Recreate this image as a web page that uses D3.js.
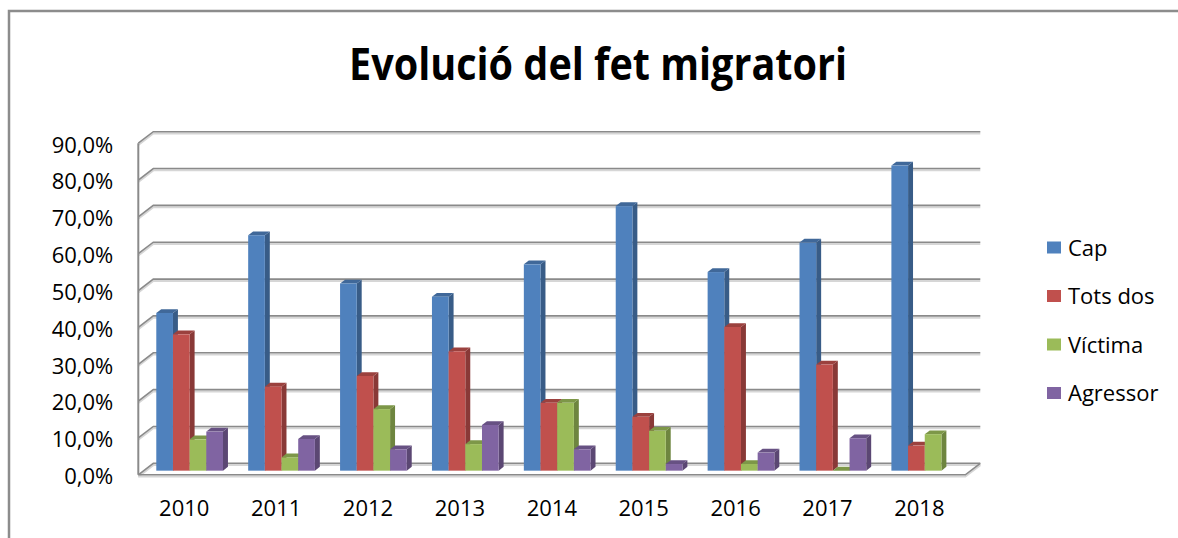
<!DOCTYPE html>
<html>
<head>
<meta charset="utf-8">
<script src="https://cdn.jsdelivr.net/npm/d3@7"></script>
<style>
  body { margin: 0; background: #fff; }
  svg { display: block; }
</style>
</head>
<body>
<script>
// data (fractions, shown as %)
const years = ["2010", "2011", "2012", "2013", "2014", "2015", "2016", "2017", "2018"];
const seriesNames = ["Cap", "Tots dos", "Víctima", "Agressor"];
const cap      = [0.428, 0.639, 0.508, 0.472, 0.560, 0.718, 0.539, 0.619, 0.828];
const totsDos  = [0.370, 0.228, 0.257, 0.324, 0.184, 0.146, 0.390, 0.288, 0.068];
const victima  = [0.085, 0.036, 0.167, 0.072, 0.184, 0.108, 0.018, 0.000, 0.099];
const agressor = [0.106, 0.086, 0.058, 0.124, 0.058, 0.018, 0.049, 0.088, null];
const yTicks = [0, 0.1, 0.2, 0.3, 0.4, 0.5, 0.6, 0.7, 0.8, 0.9];
const colors = ["#4F81BD", "#C0504D", "#9BBB59", "#8064A2"];

const W = 1178, H = 538;
const svg = d3.select("body").append("svg").attr("width", W).attr("height", H);

const font = "'Open Sans', 'Noto Sans', sans-serif";
const ca = d3.formatLocale({ decimal: ",", thousands: ".", grouping: [3], currency: ["", " €"] });
const pct = ca.format(".1%");

// chart frame
svg.append("path")
  .attr("d", "M9,538 V11 H1178")
  .attr("fill", "none").attr("stroke", "#8c8c8c").attr("stroke-width", 2.5);

// title
svg.append("text")
  .attr("x", 598).attr("y", 80)
  .attr("text-anchor", "middle")
  .attr("font-family", font).attr("font-weight", "bold").attr("font-size", 45)
  .attr("textLength", 498).attr("lengthAdjust", "spacingAndGlyphs")
  .attr("fill", "#000")
  .text("Evolució del fet migratori");

// oblique 3d: back wall plane + depth vector toward the viewer
const x0 = 153.3, x1 = 980.3;
const ddx = -15, ddy = 11.5;
const dFront = 0.64, dBack = 0.31; // bar depth slice

const y = d3.scaleLinear().domain([0, 0.9]).range([463.3, 131.7]);
const yFront = d3.scaleLinear().domain([0, 0.9]).range([463.3 + ddy, 131.7 + ddy]);

const x = d3.scaleBand().domain(years).range([x0, x1]).paddingInner(0.274).paddingOuter(0.137);
const xFront = d3.scaleBand().domain(years).range([x0 + ddx, x1 + ddx]);
const xs = d3.scaleBand().domain(seriesNames).range([0, x.bandwidth()]);

// walls and gridlines
const grid = svg.append("g").attr("fill", "none");
yTicks.forEach(t => {
  const yb = y(t);
  const d = `M${x0 + ddx},${yb + ddy} L${x0},${yb} L${x1},${yb}`;
  grid.append("path").attr("d", d).attr("stroke", "#d6d6d6").attr("stroke-width", 2)
    .attr("transform", "translate(0,1.8)");
  grid.append("path").attr("d", d).attr("stroke", "#8a8a8a").attr("stroke-width", 1.6);
});
// side wall front edge
grid.append("path")
  .attr("d", `M${x0 + ddx},${y(0.9) + ddy} V${y(0) + ddy}`)
  .attr("stroke", "#8a8a8a").attr("stroke-width", 2);
// floor outline
const floorD = `M${x0 + ddx},${y(0) + ddy} H${x1 + ddx} L${x1},${y(0)}`;
grid.append("path").attr("d", floorD).attr("stroke", "#d6d6d6").attr("stroke-width", 2)
  .attr("transform", "translate(0,1.8)");
grid.append("path").attr("d", floorD).attr("stroke", "#8a8a8a").attr("stroke-width", 1.6);

// bars, drawn left to right so each front face hides the previous side
const allSeries = [cap, totsDos, victima, agressor];
const bars = svg.append("g");
years.forEach((yr, i) => {
  seriesNames.forEach((name, s) => {
    const v = allSeries[s][i];
    if (v == null) return;
    const c = d3.color(colors[s]);
    const xl = x(yr) + xs(name), xr = xl + xs.bandwidth();
    const yt = y(v), yb = y(0);
    const P = (px, py, d) => [px + ddx * d, py + ddy * d];
    const g = bars.append("g");
    // side
    g.append("polygon")
      .attr("points", [P(xr, yt, dFront), P(xr, yt, dBack), P(xr, yb, dBack), P(xr, yb, dFront)].join(" "))
      .attr("fill", c.darker(0.95));
    // top
    g.append("polygon")
      .attr("points", [P(xl, yt, dFront), P(xr, yt, dFront), P(xr, yt, dBack), P(xl, yt, dBack)].join(" "))
      .attr("fill", c.darker(0.6));
    // front
    const f = P(xl, yt, dFront);
    g.append("rect")
      .attr("x", f[0]).attr("y", f[1])
      .attr("width", xs.bandwidth()).attr("height", yb - yt)
      .attr("fill", c);
  });
});

// axes
const yAxis = svg.append("g")
  .attr("transform", `translate(${x0 + ddx},0)`)
  .call(d3.axisLeft(yFront).tickValues(yTicks).tickFormat(pct).tickSize(0).tickPadding(25));
yAxis.select(".domain").remove();
yAxis.selectAll("text").attr("font-family", font).attr("font-size", 22).attr("fill", "#000").attr("dy", "0.4em");

const xAxis = svg.append("g")
  .attr("transform", `translate(0,${y(0) + ddy})`)
  .call(d3.axisBottom(xFront).tickSize(0).tickPadding(26));
xAxis.select(".domain").remove();
xAxis.selectAll("text").attr("font-family", font).attr("font-size", 22).attr("fill", "#000");

// legend
const legend = svg.append("g").attr("font-family", font).attr("font-size", 22);
seriesNames.forEach((name, s) => {
  const cy = 247.5 + s * 48.5;
  legend.append("rect")
    .attr("x", 1047).attr("y", cy - 6).attr("width", 14).attr("height", 12)
    .attr("fill", colors[s]);
  legend.append("text")
    .attr("x", 1068).attr("y", cy).attr("dy", "0.38em")
    .attr("fill", "#000")
    .text(name);
});
</script>
</body>
</html>
